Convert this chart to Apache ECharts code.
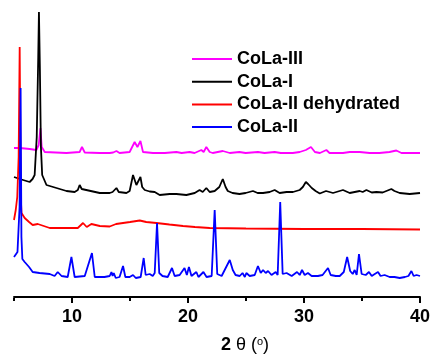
<!DOCTYPE html>
<html>
<head>
<meta charset="utf-8">
<script src="https://cdn.jsdelivr.net/npm/echarts@6/dist/echarts.min.js"></script>
<style>
html,body{margin:0;padding:0;background:#fff;}
#c{width:430px;height:355px;}
</style>
</head>
<body>
<div id="c"></div>
<script>
// Names (legend order)
var seriesNames = ['CoLa-III', 'CoLa-I', 'CoLa-II dehydrated', 'CoLa-II'];
// x-axis ticks/labels (2θ, degrees)
var majorTicks = [10, 20, 30, 40];
var minorTicks = [5, 15, 25, 35];
var tickLabels = [10, 20, 30, 40];

// [2θ, offset intensity (a.u.)]
var colaIII = [[5.0,149],[5.5,149],[6.35,148],[6.93,147],[7.13,152],[7.28,169],[7.39,150],[7.65,145],[9.52,144],[10.66,145],[10.86,150],[11.1,144.5],[12.39,144],[13.25,144],[13.4,146],[13.55,144.5],[13.83,146],[14.1,144],[14.97,145],[15.4,155],[15.64,150],[15.9,156],[16.12,145],[16.98,144],[18.0,144],[19.0,145],[19.45,144],[20.14,145],[20.57,144],[21.15,147],[21.35,145],[21.58,150],[21.87,145],[22.13,144],[23.0,146],[23.6,144],[24.43,145],[24.97,144],[26.03,145],[26.6,144],[27.47,145],[28.0,144],[29.03,144],[29.63,145],[30.16,147],[30.6,150],[30.94,145],[31.37,144],[31.93,147],[32.2,144],[33.36,144],[33.94,145],[34.8,145],[35.66,144],[36.5,144],[37.37,145],[37.96,146.5],[38.4,144],[39.1,144],[40.0,144]];

var colaI = [[5.0,120],[5.5,118],[6.35,115],[6.6,118],[6.78,122],[6.96,160],[7.09,240],[7.15,285],[7.23,230],[7.32,150],[7.43,122],[7.8,112],[8.66,109],[9.52,106],[10.23,105],[10.5,107],[10.66,112],[10.84,108],[11.0,106],[12.39,104],[13.25,104],[13.4,106],[13.5,105],[13.83,109],[14.03,105],[14.69,104],[14.97,106],[15.26,122],[15.55,112],[15.9,120],[16.05,110],[16.27,107],[16.7,105.5],[17.13,105],[17.56,102],[18.42,103],[19.0,103],[19.86,102],[20.58,104],[21.0,107],[21.27,105],[21.58,109],[21.87,105],[22.3,106],[22.7,110],[23.0,118],[23.24,110],[23.43,106],[23.84,104],[24.44,103],[24.97,104],[25.6,106],[26.0,104],[26.47,104],[27.04,105],[27.47,107],[27.9,104],[28.5,105],[29.05,105],[29.63,107],[29.9,110],[30.16,115],[30.35,113],[30.67,109],[31.0,106],[31.36,103.5],[31.9,106],[32.5,104],[33.36,107],[33.94,104],[34.37,105],[34.8,106],[35.06,105],[35.38,107],[35.84,104.5],[36.24,105],[36.78,104.5],[37.53,108],[37.8,106],[38.25,104],[39.11,103],[40.0,104]];

var colaIIdehyd = [[5.0,77],[5.15,87],[5.28,100],[5.4,140],[5.49,250],[5.55,150],[5.6,95],[5.65,84],[5.92,79],[6.3,75],[6.61,72],[7.05,73],[7.2,71],[8.08,69],[9.54,69],[10.5,69],[10.95,74],[11.27,70],[11.67,73],[12.4,71],[13.25,70.5],[13.8,73],[15.0,75],[15.84,76.5],[16.4,75],[17.28,74],[18.4,72.5],[19.57,71],[20.6,70],[21.87,69],[25.0,68.5],[30.0,68],[35.0,68],[40.0,67.5]];

var colaII = [[5.0,40],[5.3,45],[5.48,90],[5.57,209],[5.64,60],[5.72,38],[5.92,35],[6.3,30],[6.61,25],[7.2,24],[8.08,23],[8.5,21],[8.77,25],[9.1,21],[9.63,20],[9.95,40],[10.23,20],[11.1,21],[11.72,44],[11.96,20],[12.8,20],[13.25,21],[13.4,25],[13.5,21],[13.6,24],[13.77,19],[14.1,20],[14.4,31],[14.6,20],[14.97,20],[15.26,22],[15.5,19],[15.92,20],[16.18,39],[16.35,22],[16.7,23],[16.96,21],[17.13,24],[17.33,74],[17.52,24],[17.8,21],[18.25,20],[18.62,29],[18.85,21],[19.28,22],[19.45,20],[19.7,29],[19.9,22],[20.08,30],[20.3,21],[20.72,25],[20.9,20],[21.33,25],[21.6,20],[22.04,21],[22.3,87],[22.52,23],[22.9,21],[23.6,37],[23.86,27],[24.1,22],[24.46,21],[24.7,24],[24.9,20],[25.03,24],[25.32,21],[25.75,22],[26.03,31],[26.27,24],[26.47,27],[26.7,24],[26.9,26],[27.2,22],[27.56,25],[27.73,22],[27.95,95],[28.16,23],[28.5,24],[28.94,21],[29.4,25],[29.63,22],[29.83,27],[30.06,22],[30.34,24],[30.66,21],[31.2,21],[31.6,22],[32.07,29],[32.3,22],[32.74,21],[33.08,21],[33.43,25],[33.72,40],[33.98,26],[34.2,23],[34.37,27],[34.54,22],[34.74,43],[34.97,23],[35.32,22],[35.6,25],[35.84,21],[36.1,23],[36.38,25],[36.6,21],[36.95,22],[37.38,20],[37.8,20],[38.25,19],[38.7,20],[39.0,21],[39.26,26],[39.45,21],[39.7,22],[40.0,21]];

var seriesData = [colaIII, colaI, colaIIdehyd, colaII];
var colors = ['#FF00FF', '#000000', '#FF0000', '#0000FF'];
var FONT = '"Liberation Sans", Arial, sans-serif';

var chart = echarts.init(document.getElementById('c'), null, {renderer: 'canvas'});
chart.setOption({
  animation: false,
  backgroundColor: '#ffffff',
  grid: {left: 14, right: 10, top: 10, bottom: 57, containLabel: false, outerBoundsMode: 'none'},
  legend: {
    orient: 'vertical', left: 192, top: 50, padding: 0,
    icon: 'rect', itemWidth: 40, itemHeight: 2, itemGap: 4.7,
    data: seriesNames,
    textStyle: {fontFamily: FONT, fontSize: 18, fontWeight: 'bold', color: '#000', lineHeight: 18}
  },
  xAxis: [{
    type: 'value', min: 5, max: 40, interval: 5, position: 'bottom',
    axisLine: {show: true, lineStyle: {color: '#000', width: 2}},
    axisTick: {show: true, inside: false, length: 6, customValues: majorTicks, lineStyle: {color: '#000', width: 2}},
    axisLabel: {customValues: tickLabels, margin: 10, color: '#000', fontFamily: FONT, fontSize: 18, fontWeight: 'bold'},
    splitLine: {show: false},
    name: '{b|2} {r|θ (}{s|o}{r|)}',
    nameLocation: 'middle', nameGap: 38,
    nameTextStyle: {
      fontFamily: FONT, fontSize: 18, color: '#000', padding: [0, 0, 0, 56],
      rich: {
        b: {fontFamily: FONT, fontSize: 18, fontWeight: 'bold', color: '#000'},
        r: {fontFamily: FONT, fontSize: 18, color: '#000'},
        s: {fontFamily: FONT, fontSize: 11, color: '#000', padding: [0, 0, 8, 0]}
      }
    }
  }, {
    type: 'value', min: 5, max: 40, interval: 5, position: 'bottom', gridIndex: 0,
    axisLine: {show: false},
    axisTick: {show: true, inside: false, length: 3, customValues: minorTicks, lineStyle: {color: '#000', width: 2}},
    axisLabel: {show: false},
    splitLine: {show: false}
  }],
  yAxis: {type: 'value', min: -1, max: 287, show: false, splitLine: {show: false}},
  series: seriesNames.map(function (n, i) {
    return {
      name: n, type: 'line', data: seriesData[i], xAxisIndex: 0,
      symbol: 'none', showSymbol: false, smooth: false,
      lineStyle: {color: colors[i], width: 1.8},
      itemStyle: {color: colors[i]}
    };
  })
});
</script>
</body>
</html>
